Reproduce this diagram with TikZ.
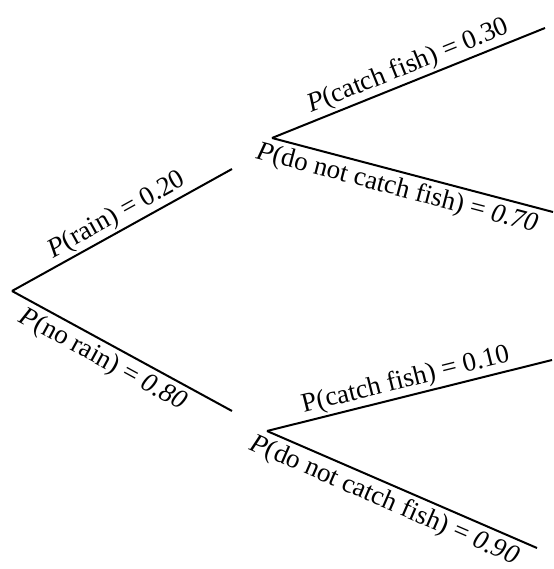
\documentclass[tikz,border=0pt]{standalone}
\usepackage{fontspec}
\setmainfont{Liberation Serif}
\begin{document}
\begin{tikzpicture}[x=1pt,y=-1pt]
\tikzstyle{every node}+=[inner sep=2pt]
\tikzstyle{branch}=[black,line width=2pt]
\tikzstyle{prob}=[font=\fontsize{27}{31}\selectfont,sloped]
\tikzstyle{probbelow}=[prob,below,inner sep=4pt]
\useasboundingbox (0,0) rectangle (553,569);
\coordinate (root) at (12,291);
\coordinate (rain) at (232,169);
\coordinate (norain) at (232,411);
\coordinate (rainfish) at (272,138);
\coordinate (norainfish) at (267,431);
\coordinate (rainC) at (545,28);
\coordinate (rainN) at (553,212);
\coordinate (norainC) at (552,360);
\coordinate (norainN) at (537,548);
\draw [branch] (root) -- (rain) node [prob,pos=0.51,above] {\textit{P}(rain) = 0.20};
\draw [branch] (root) -- (norain) node [probbelow,pos=0.45] {\textit{P}(no rain) = \textit{0.80}};
\draw [branch] (rainfish) -- (rainC) node [prob,pos=0.52,above] {\textit{P}(catch fish) = 0.30};
\draw [branch] (rainfish) -- (rainN) node [probbelow,pos=0.46] {\textit{P}(do not catch fish) = \textit{0.70}};
\draw [branch] (norainfish) -- (norainC) node [prob,midway,above] {P(catch fish) = 0.10};
\draw [branch] (norainfish) -- (norainN) node [probbelow,pos=0.46] {\textit{P}(do not catch fish) = \textit{0.90}};
\end{tikzpicture}
\end{document}
